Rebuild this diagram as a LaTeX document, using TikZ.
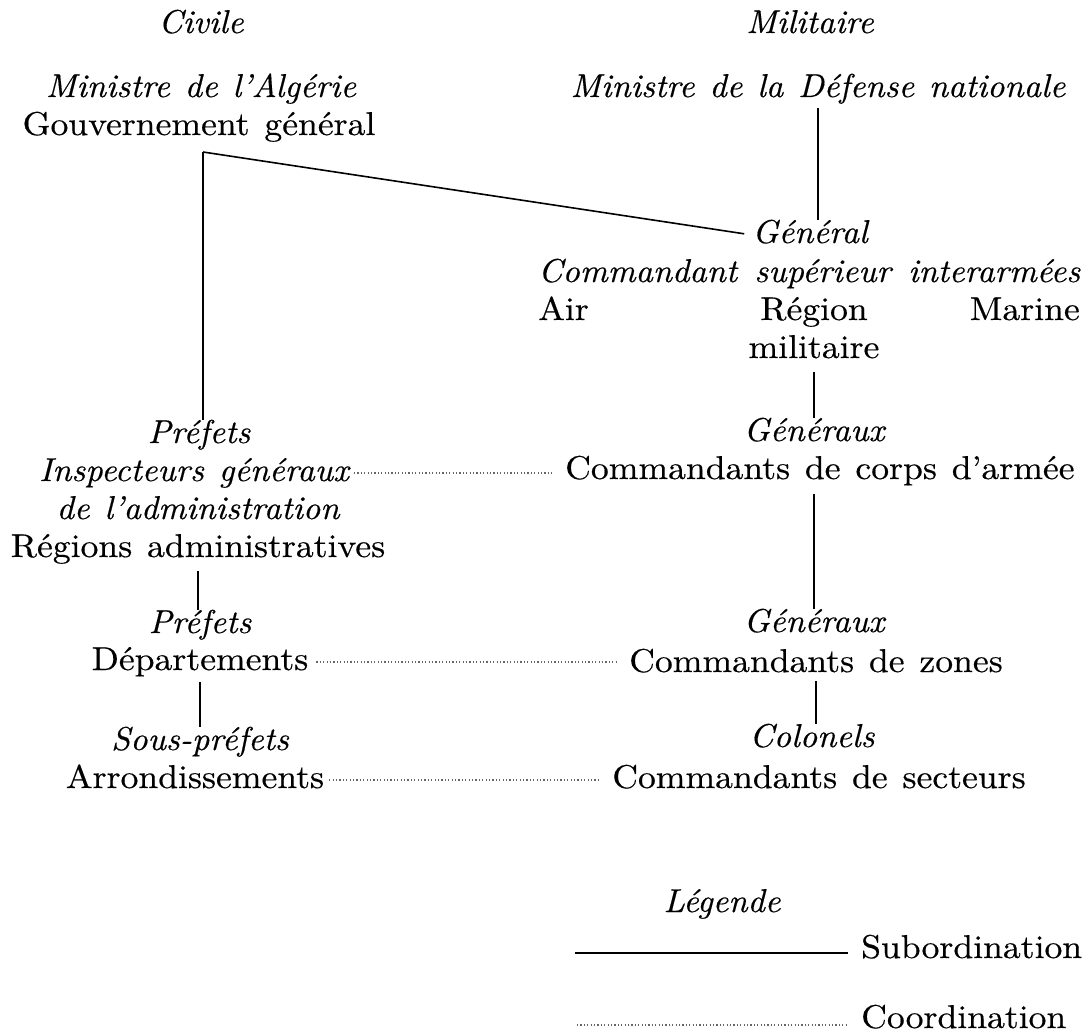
\documentclass[tikz,border=0pt]{standalone}
\usepackage{fontspec}
\setmainfont{lmroman10}[Extension=.otf, UprightFont=*-regular, ItalicFont=*-italic,
  BoldFont=*-bold, BoldItalicFont=*-bolditalic, FakeBold=0.4,
  UprightFeatures={FakeStretch=1.08}, ItalicFeatures={FakeStretch=1.03}]
\usetikzlibrary{calc}
\newcommand{\orgfont}{\fontsize{33}{38}\selectfont\spaceskip=.45em plus .3em minus .15em\relax}

\begin{document}
\begin{tikzpicture}
    [x=1pt, y=-1pt,
    lbl/.style={inner sep=0pt, anchor=base, text height=23pt, text depth=7pt, font=\orgfont},
    ilbl/.style={lbl, font=\orgfont\itshape},
    subline/.style={line width=1.6pt},
    coordline/.style={line width=1.1pt, black!60, dash pattern=on 1.2pt off 2.2pt}]
\useasboundingbox (0,0) rectangle (1088,1033);
% civile
\node[ilbl] (civ) at (201,33) {Civile};
\node[ilbl] (minalg) at (201,97) {Ministre de l'Algérie};
\node[lbl] (gouv) at (199,135) {Gouvernement général};
\coordinate (fork) at (203,152);
\node[ilbl] (pref1) at (199,443) {Préfets};
\node[ilbl] (insp) at (194,481) {Inspecteurs généraux};
\node[ilbl] (adm) at (198,519) {de l'administration};
\node[lbl] (regadm) at (198,557) {Régions administratives};
\node[ilbl] (pref2) at (200,633) {Préfets};
\node[lbl] (dep) at (200,670) {Départements};
\node[ilbl] (spref) at (200,750) {Sous-préfets};
\node[lbl] (arr) at (195,788) {Arrondissements};
% militaire
\node[ilbl] (mil) at (810,33) {Militaire};
\node[ilbl] (mdn) at (818,97) {Ministre de la Défense nationale};
\node[ilbl] (gen) at (810,243) {Général};
\node[ilbl,anchor=base west] (csi) at (538,282) {\makebox[542pt][s]{Commandant supérieur interarmées}};
\node[lbl,anchor=base west] (air) at (538,320) {Air};
\node[lbl] (reg) at (814,320) {Région};
\node[lbl,anchor=base east] (marine) at (1080,320) {Marine};
\node[lbl] (milr) at (814,358) {militaire};
\node[ilbl] (gx1) at (814,441) {Généraux};
\node[lbl,anchor=base west] (cca) at (565,479) {Commandants de corps d'armée};
\node[ilbl] (gx2) at (814,632) {Généraux};
\node[lbl] (cz) at (816,672) {Commandants de zones};
\node[ilbl] (col) at (812,747) {Colonels};
\node[lbl] (cs) at (819,788) {Commandants de secteurs};
% subordination
\draw[subline] (fork) -- (fork |- pref1.north);
\draw[subline, shorten >=8pt] (fork) -- (gen.west);
\draw[subline, shorten <=4pt] (mdn.south) -- (mdn.south |- gen.north);
\draw[subline, shorten <=7pt] (milr.south) -- (milr.south |- gx1.north);
\draw[subline, shorten <=8pt] (gx2.north |- cca.south) -- (gx2.north);
\draw[subline, shorten <=2pt] (cz.south) -- (cz.south |- col.north);
\draw[subline, shorten <=7pt] (regadm.south) -- (regadm.south |- pref2.north);
\draw[subline, shorten <=5pt] (dep.south) -- (dep.south |- spref.north);
% coordination
\draw[coordline, shorten <=5pt, shorten >=12pt] (insp.east) -- (insp.east -| cca.west);
\draw[coordline, shorten <=8pt, shorten >=12pt] (dep.east) -- (dep.east -| cz.west);
\draw[coordline, shorten <=5pt, shorten >=11pt] (arr.east) -- (arr.east -| cs.west);
% legende
\node[ilbl] (leg) at (722,912) {Légende};
\node[lbl,anchor=base west] (sub) at (861,958) {Subordination};
\node[lbl,anchor=base west] (coo) at (861,1028) {Coordination};
\coordinate (subl) at (575,953);
\coordinate (cool) at (577,1025);
\draw[subline, shorten >=13pt] (subl) -- (subl -| sub.west);
\draw[coordline, shorten >=13pt] (cool) -- (cool -| coo.west);
\end{tikzpicture}
\end{document}
